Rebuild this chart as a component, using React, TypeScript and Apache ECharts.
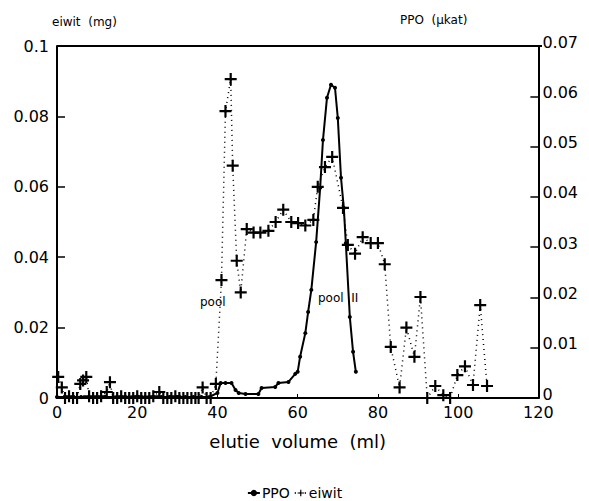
import React, { useEffect, useRef } from "react";
import * as echarts from "echarts";

// eiwit (mg) — [elutie volume (ml), value]
const eiwitX = [0.3, 1.2, 2, 3, 4, 5, 5.8, 6.5, 7.3, 8, 9, 10, 11, 12.4, 13.2, 14, 15, 16, 17, 18, 19, 20, 21, 22, 23, 24, 25.5, 26.5, 27.5, 28.5, 29.5, 30.5, 31.5, 32.5, 33.5, 34.5, 35.3, 36.3, 37.3, 38.3, 39.6, 41, 42, 43.3, 43.8, 44.8, 45.8, 47.3, 49, 50.7, 52.7, 54.5, 56.4, 58.4, 60.1, 61.9, 63.9, 65, 66.8, 68.6, 71.3, 72.5, 74.3, 76.2, 78.2, 80, 81.7, 83.2, 85.4, 87.1, 89.1, 90.6, 92.3, 94.3, 96.3, 98, 99.8, 101.7, 103.7, 105.5, 107.2];
const eiwitY = [0.006, 0.003, 0, 0.0005, 0, 0, 0.004, 0.005, 0.006, 0.0005, 0, 0, 0.0005, 0.0017, 0.0045, 0, 0, 0.0005, 0, 0, 0, 0.0005, 0, 0, 0, 0.0005, 0.0017, 0, 0, 0, 0.0005, 0, 0, 0, 0, 0, 0, 0.003, 0, 0, 0.004, 0.0335, 0.0815, 0.0906, 0.066, 0.039, 0.03, 0.048, 0.047, 0.047, 0.0475, 0.05, 0.0535, 0.05, 0.0497, 0.049, 0.0506, 0.06, 0.0656, 0.0685, 0.054, 0.0435, 0.041, 0.0457, 0.044, 0.044, 0.038, 0.0145, 0.003, 0.02, 0.0117, 0.0287, 0, 0.0034, 0.0008, 0, 0.0065, 0.009, 0.0037, 0.0264, 0.0034];

// PPO (µkat)
const ppoX = [0, 2, 4, 6, 8, 10, 12, 14, 16, 18, 20, 22, 24, 26, 28, 30, 32, 34, 36, 38, 40, 40.8, 42, 43.5, 44.5, 45.3, 47, 50.2, 51, 54.4, 55.2, 57.7, 59.4, 60, 60.6, 61.9, 62.6, 63.4, 64.6, 65.6, 66.3, 67.3, 68.3, 69.3, 70, 70.8, 71.5, 72, 73, 73.8, 74.5];
const ppoY = [0.0002, 0.0002, 0.0002, 0.0002, 0.0002, 0.0002, 0.0002, 0.0002, 0.0002, 0.0002, 0.0003, 0.0002, 0.0002, 0.0002, 0.0002, 0.0002, 0.0002, 0.0002, 0.0002, 0.0002, 0.001, 0.003, 0.003, 0.003, 0.0016, 0.001, 0.0008, 0.0008, 0.002, 0.0022, 0.003, 0.0032, 0.0048, 0.0052, 0.0082, 0.0129, 0.0171, 0.0215, 0.031, 0.0418, 0.0513, 0.0597, 0.0623, 0.0617, 0.0557, 0.0438, 0.0378, 0.0308, 0.0161, 0.0092, 0.0052];

const xTicks = { min: 0, max: 120, interval: 20 };
const leftTicks = { min: 0, max: 0.1, interval: 0.02 };
const rightTicks = { min: 0, max: 0.07, interval: 0.01 };

const FONT = "DejaVu Sans";
const PLUS = "path://M4.5,0h2v4.5h4.5v2h-4.5v4.5h-2v-4.5h-4.5v-2h4.5z";

export default function App() {
  const ref = useRef<HTMLDivElement>(null);
  useEffect(() => {
    if (!ref.current) return;
    const chart = echarts.init(ref.current, undefined, { renderer: "svg" });
    const axisLine = { show: true, lineStyle: { color: "#000", width: 2 } };
    chart.setOption({
      animation: false,
      backgroundColor: "#fff",
      textStyle: { fontFamily: FONT, color: "#000" },
      grid: { left: 49, right: 39, top: 38, bottom: 103, show: false },
      xAxis: {
        type: "value",
        ...xTicks,
        axisLine,
        axisTick: { show: true, inside: true, length: 4, lineStyle: { color: "#000", width: 1 } },
        axisLabel: { color: "#000", fontSize: 16, fontFamily: FONT, margin: 6 },
        splitLine: { show: false },
        name: "elutie  volume  (ml)",
        nameLocation: "middle",
        nameGap: 34,
        nameTextStyle: { fontSize: 18, fontFamily: FONT, color: "#000", letterSpacing: 0.5 },
      },
      yAxis: [
        {
          type: "value",
          ...leftTicks,
          position: "left",
          axisLine,
          axisTick: { show: true, inside: true, length: 8, lineStyle: { color: "#000", width: 1.5 } },
          axisLabel: { color: "#000", fontSize: 16, fontFamily: FONT, margin: 8 },
          splitLine: { show: false },
        },
        {
          type: "value",
          ...rightTicks,
          position: "right",
          axisLine,
          axisTick: { show: true, inside: true, length: 8, lineStyle: { color: "#000", width: 1.5 } },
          axisLabel: { color: "#000", fontSize: 16, fontFamily: FONT, margin: 4, verticalAlign: "bottom", padding: [0, 0, -4, 0] },
          splitLine: { show: false },
        },
      ],
      legend: {
        top: 473,
        left: "center",
        itemWidth: 12,
        itemHeight: 8,
        itemGap: 4,
        textStyle: { fontSize: 14, fontFamily: FONT, color: "#000", padding: [0, 0, 0, -3] },
        data: ["PPO", "eiwit"],
      },
      graphic: [
        { type: "line", shape: { x1: 49, y1: 38, x2: 534, y2: 38 }, style: { stroke: "#000", lineWidth: 2 } },
        { type: "text", x: 44, y: 8, style: { text: "eiwit  (mg)", fontSize: 12, fontFamily: FONT, fill: "#000" } },
        { type: "text", x: 392, y: 6, style: { text: "PPO  (µkat)", fontSize: 12, fontFamily: FONT, fill: "#000" } },
        { type: "text", x: 192, y: 288, style: { text: "pool", fontSize: 12, fontFamily: FONT, fill: "#000" } },
        { type: "text", x: 310, y: 284, style: { text: "pool  II", fontSize: 12, fontFamily: FONT, fill: "#000" } },
      ],
      series: [
        {
          name: "PPO",
          type: "line",
          yAxisIndex: 1,
          data: ppoX.map((x, i) => [x, ppoY[i]]),
          symbol: "circle",
          symbolSize: 4,
          showAllSymbol: true,
          itemStyle: { color: "#000" },
          lineStyle: { color: "#000", width: 2 },
          z: 3,
        },
        {
          name: "eiwit",
          type: "line",
          yAxisIndex: 0,
          data: eiwitX.map((x, i) => [x, eiwitY[i]]),
          symbol: PLUS,
          symbolSize: 12,
          showAllSymbol: true,
          itemStyle: { color: "#000" },
          lineStyle: { color: "#000", width: 1.5, type: [1, 4] },
          z: 2,
        },
      ],
    });
    return () => chart.dispose();
  }, []);
  return <div ref={ref} style={{ width: 573, height: 493 }} />;
}
